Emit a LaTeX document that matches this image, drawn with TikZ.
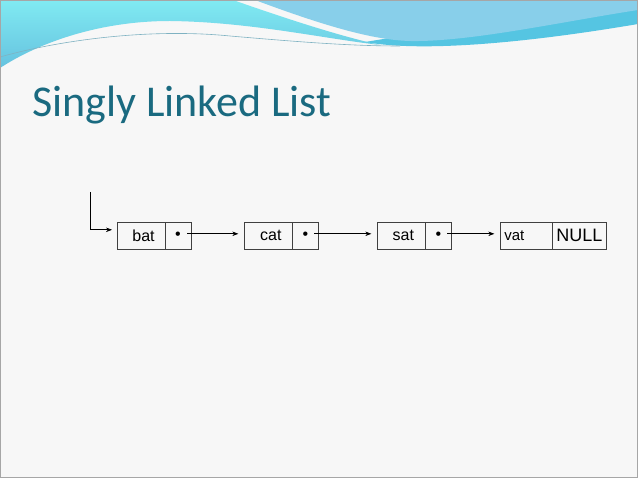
\documentclass[tikz,border=0pt]{standalone}
\usepackage{fontspec}
\setmainfont{Liberation Sans}
\newfontfamily\titlefont{Carlito}
\usetikzlibrary{positioning,arrows.meta}
\definecolor{slidebg}{HTML}{F7F7F7}
\definecolor{waveA}{HTML}{80EAF2}
\definecolor{waveAb}{HTML}{66C2DF}
\definecolor{waveB}{HTML}{88CFEA}
\definecolor{waveC}{HTML}{55C5E2}
\definecolor{waveline}{HTML}{7FB2C2}
\definecolor{titleteal}{HTML}{1A6A80}

\begin{document}
\begin{tikzpicture}[x=1pt,y=-1pt,
    cell/.style={draw=black!75, line width=0.7pt, outer sep=0pt, inner sep=0pt,
      minimum height=27pt, font=\fontsize{16}{19}\selectfont},
    link/.style={-{Stealth[length=6pt,width=4.5pt]}, line width=0.6pt}]
    \useasboundingbox (0,0) rectangle (638,478);
    % slide background and waves
    \fill[slidebg] (0,0) rectangle (638,478);
    \path[top color=waveA, bottom color=waveAb] (0,0) -- (233,0)
      .. controls (290,20) and (340,36) .. (380,45)
      .. controls (320,38) and (250,22) .. (170,21)
      .. controls (100,21) and (40,42) .. (0,68) -- cycle;
    \fill[waveC] (365,42) .. controls (420,52) and (520,44) .. (638,24)
      -- (638,6) -- (500,20) -- cycle;
    \fill[waveB] (255,0) -- (638,0) -- (638,10)
      .. controls (560,22) and (470,42) .. (410,41)
      .. controls (375,40) and (330,28) .. (255,0) -- cycle;
    \draw[waveline, line width=0.6pt] (0,57) .. controls (60,40) and (150,28) .. (230,36)
      .. controls (300,42) and (350,46) .. (400,46);
    \draw[black!35, line width=1pt] (0.5,0.5) rectangle (637.5,477.5);

    \node[anchor=base west, inner sep=0pt, text=titleteal,
      font=\titlefont\fontsize{44}{50}\selectfont] (title) at (32,117) {Singly Linked List};

    % the list
    \node[cell, minimum width=48pt] (bat) at (141,235.8) {\hspace{5pt}bat};
    \node[cell, minimum width=26pt, right=0pt of bat] (bat-p) {•};
    \node[cell, minimum width=48pt] (cat) at (268.3,235.8) {\hspace{5pt}cat};
    \node[cell, minimum width=26pt, right=0pt of cat] (cat-p) {•};
    \node[cell, minimum width=48pt] (sat) at (401.3,235.8) {\hspace{4pt}sat};
    \node[cell, minimum width=26pt, right=0pt of sat] (sat-p) {•};
    \node[cell, inner xsep=4pt, text width=44pt, align=left,
      font=\fontsize{15}{18}\selectfont] (vat) at (526.3,235.8) {vat};
    \node[cell, minimum width=54pt, font=\fontsize{18}{21}\selectfont,
      right=0pt of vat] (null) {NULL};

    \coordinate (head) at (90,192);
    \draw[link, shorten >=5pt] (head) |- ([yshift=6pt]bat.west);
    \draw[link, shorten <=9pt, shorten >=6pt] ([yshift=2pt]bat-p.center) -- ([yshift=2pt]cat.west);
    \draw[link, shorten <=9pt, shorten >=6pt] ([yshift=2pt]cat-p.center) -- ([yshift=2pt]sat.west);
    \draw[link, shorten <=9pt, shorten >=6pt] ([yshift=2pt]sat-p.center) -- ([yshift=2pt]vat.west);
\end{tikzpicture}
\end{document}
